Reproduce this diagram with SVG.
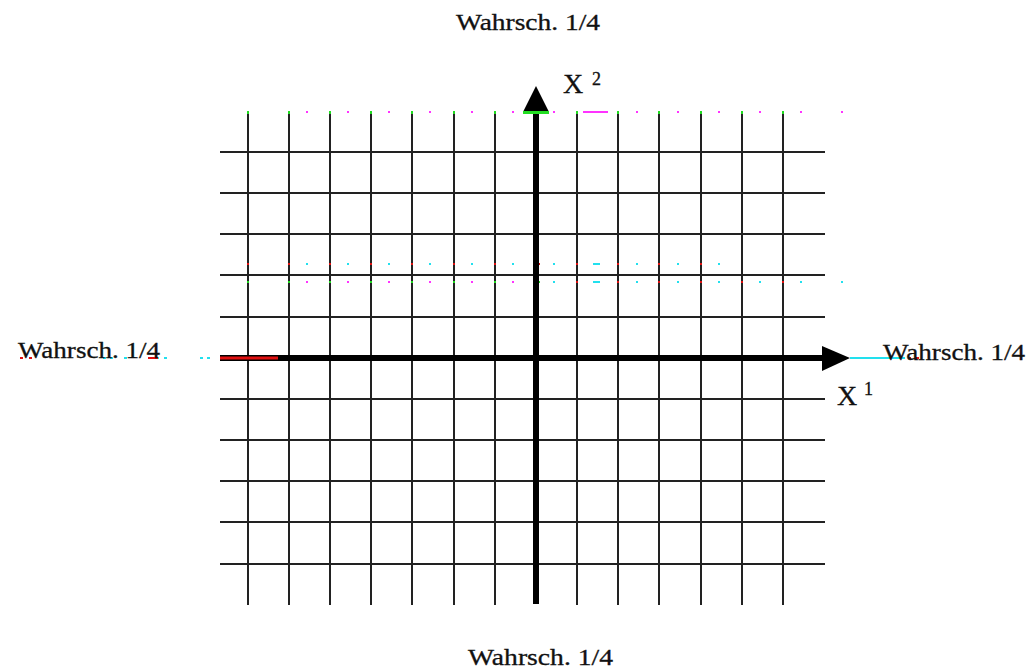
<svg xmlns="http://www.w3.org/2000/svg" width="1026" height="670" viewBox="0 0 1026 670">
<style>
.grid{stroke:#222;stroke-width:2;fill:none}
.axis{stroke:#000;stroke-width:6;fill:none}
.lbl{font-family:"Liberation Serif","Times New Roman",serif;fill:#111;stroke:#111;stroke-width:0.3}
.mg{fill:#ff33ff}
.cy{fill:#22e0ee}
.rd{fill:#e01010}
.gr{fill:#22dd22}
</style>
<rect width="1026" height="670" fill="#fff"/>
<g id="grid">
<path class="grid" d="M248,112V605M289,112V605M330,112V605M371,112V605M412,112V605M454,112V605M495,112V605M577,112V605M618,112V605M659,112V605M701,112V605M742,112V605M783,112V605"/>
<path class="grid" d="M220,152H825M220,193H825M220,234H825M220,275H825M220,317H825M220,399H825M220,440H825M220,481H825M220,522H825M220,564H825"/>
</g>
<g id="markers">
<g class="gr">
<rect x="247" y="111" width="2" height="3"/><rect x="288" y="111" width="2" height="3"/><rect x="329" y="111" width="2" height="3"/><rect x="370" y="111" width="2" height="3"/><rect x="411" y="111" width="2" height="3"/><rect x="453" y="111" width="2" height="3"/><rect x="494" y="111" width="2" height="3"/><rect x="576" y="111" width="2" height="3"/><rect x="617" y="111" width="2" height="3"/><rect x="658" y="111" width="2" height="3"/><rect x="700" y="111" width="2" height="3"/><rect x="741" y="111" width="2" height="3"/><rect x="782" y="111" width="2" height="3"/>
</g>
<g class="mg">
<rect x="306" y="111" width="2" height="2"/><rect x="347" y="111" width="2" height="2"/><rect x="388" y="111" width="2" height="2"/><rect x="429" y="111" width="2" height="2"/><rect x="471" y="111" width="2" height="2"/><rect x="512" y="111" width="2" height="2"/><rect x="553" y="111" width="2" height="2"/>
<rect x="583" y="111" width="25" height="2"/>
<rect x="636" y="111" width="2" height="2"/><rect x="677" y="111" width="2" height="2"/><rect x="718" y="111" width="2" height="2"/><rect x="759" y="111" width="2" height="2"/><rect x="800" y="111" width="2" height="2"/><rect x="841" y="111" width="2" height="2"/>
</g>
<g class="rd">
<rect x="247" y="263" width="2" height="2"/><rect x="288" y="263" width="2" height="2"/><rect x="329" y="263" width="2" height="2"/><rect x="370" y="263" width="2" height="2"/><rect x="411" y="263" width="2" height="2"/><rect x="453" y="263" width="2" height="2"/><rect x="494" y="263" width="2" height="2"/><rect x="533" y="263" width="7" height="2"/><rect x="576" y="263" width="2" height="2"/><rect x="617" y="263" width="2" height="2"/><rect x="658" y="263" width="2" height="2"/><rect x="700" y="263" width="2" height="2"/>
</g>
<g class="cy">
<rect x="306" y="263" width="2" height="2"/><rect x="347" y="263" width="2" height="2"/><rect x="388" y="263" width="2" height="2"/><rect x="429" y="263" width="2" height="2"/><rect x="471" y="263" width="2" height="2"/><rect x="512" y="263" width="2" height="2"/><rect x="553" y="263" width="2" height="2"/><rect x="593" y="263" width="7" height="2"/><rect x="636" y="263" width="2" height="2"/><rect x="677" y="263" width="2" height="2"/><rect x="718" y="263" width="2" height="2"/>
</g>
<g class="gr">
<rect x="247" y="281" width="2" height="2"/><rect x="288" y="281" width="2" height="2"/><rect x="329" y="281" width="2" height="2"/><rect x="370" y="281" width="2" height="2"/><rect x="411" y="281" width="2" height="2"/><rect x="453" y="281" width="2" height="2"/><rect x="494" y="281" width="2" height="2"/><rect x="533" y="281" width="7" height="2"/>
</g>
<g class="mg">
<rect x="306" y="281" width="2" height="2"/><rect x="347" y="281" width="2" height="2"/><rect x="388" y="281" width="2" height="2"/><rect x="429" y="281" width="2" height="2"/><rect x="471" y="281" width="2" height="2"/><rect x="512" y="281" width="2" height="2"/>
</g>
<g class="cy">
<rect x="553" y="281" width="2" height="2"/><rect x="593" y="281" width="7" height="2"/><rect x="636" y="281" width="2" height="2"/><rect x="677" y="281" width="2" height="2"/><rect x="718" y="281" width="2" height="2"/><rect x="759" y="281" width="2" height="2"/><rect x="800" y="281" width="2" height="2"/><rect x="841" y="281" width="2" height="2"/>
</g>
<g class="rd">
<rect x="576" y="281" width="2" height="2"/><rect x="617" y="281" width="2" height="2"/><rect x="658" y="281" width="2" height="2"/><rect x="700" y="281" width="2" height="2"/><rect x="741" y="281" width="2" height="2"/><rect x="782" y="281" width="2" height="2"/>
</g>
<g class="cy">
<rect x="103" y="357" width="3" height="2"/><rect x="110" y="357" width="3" height="2"/><rect x="124" y="357" width="3" height="2"/><rect x="148" y="357" width="3" height="2"/><rect x="156" y="357" width="3" height="2"/><rect x="164" y="357" width="3" height="2"/><rect x="200" y="357" width="3" height="2"/><rect x="207" y="357" width="3" height="2"/>
</g>
<g class="rd">
<rect x="20" y="357" width="3" height="2"/><rect x="29" y="357" width="3" height="2"/><rect x="148" y="357" width="10" height="2"/>
</g>
</g>
<g id="axes">
<line class="axis" x1="220" y1="358" x2="824" y2="358"/>
<polygon points="822,346 850,358 822,371" fill="#000"/>
<line class="axis" x1="536" y1="604" x2="536" y2="112"/>
<polygon points="523,112 536,86 549,112" fill="#000"/>
<rect x="523" y="111" width="26" height="3" class="gr"/>
<line x1="220" y1="358" x2="278" y2="358" stroke="#e01010" stroke-width="3"/>
<line x1="850" y1="358" x2="905" y2="358" stroke="#22e0ee" stroke-width="2"/>
<rect x="908" y="357" width="3" height="2" class="rd"/><rect x="916" y="357" width="3" height="2" class="rd"/>
</g>
<g id="labels">
<text class="lbl" x="456" y="30" font-size="23" textLength="144" lengthAdjust="spacingAndGlyphs">Wahrsch. 1/4</text>
<text class="lbl" x="468" y="665" font-size="23" textLength="145" lengthAdjust="spacingAndGlyphs">Wahrsch. 1/4</text>
<text class="lbl" x="18" y="358" font-size="23" textLength="142" lengthAdjust="spacingAndGlyphs">Wahrsch. 1/4</text>
<text class="lbl" x="883" y="360" font-size="23" textLength="142" lengthAdjust="spacingAndGlyphs">Wahrsch. 1/4</text>
<text class="lbl" x="563" y="93" font-size="28">X</text>
<text class="lbl" x="592" y="85" font-size="18">2</text>
<text class="lbl" x="837" y="405" font-size="28">X</text>
<text class="lbl" x="864" y="395" font-size="18">1</text>
</g>
</svg>
